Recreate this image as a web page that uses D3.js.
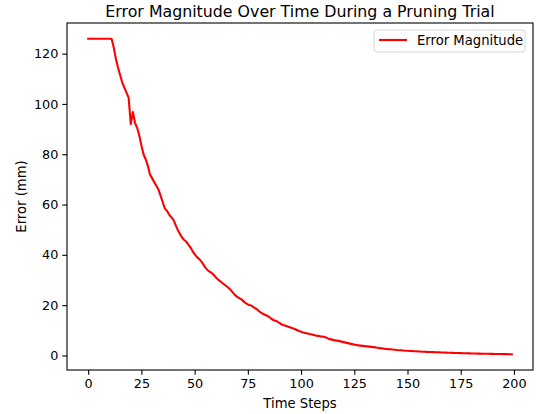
<!DOCTYPE html>
<html lang="en">
<head>
  <meta charset="UTF-8">
  <title>Error Magnitude Over Time During a Pruning Trial</title>
  <script src="https://d3js.org/d3.v7.min.js"></script>
  <style>
    body { margin: 0; background: #fff; }
    text { font-family: "DejaVu Sans", sans-serif; fill: #000; }
  </style>
</head>
<body>
  <script>
    var svgWidth = 537;
    var svgHeight = 414;

    // error magnitude (mm) at each time step 0..199
    var errorValues = [
      125.9, 125.9, 125.9, 125.9, 125.9, 125.9, 125.9, 125.9, 125.9, 125.9,
      125.9, 125.9, 122.5, 118.0, 114.5, 111.5, 108.5, 106.5, 104.5, 102.5,
      92.0, 96.8, 92.5, 90.5, 87.5, 83.5, 80.0, 78.0, 75.5, 72.0,
      70.5, 69.0, 67.5, 66.0, 63.5, 61.0, 58.5, 57.5, 56.0, 55.0,
      54.0, 52.0, 50.0, 48.5, 47.0, 46.0, 45.3, 44.2, 43.0, 41.5,
      40.3, 39.2, 38.5, 37.5, 36.3, 35.0, 34.0, 33.3, 32.8, 32.0,
      31.0, 30.2, 29.5, 28.8, 28.2, 27.5, 26.8, 26.0, 25.0, 24.0,
      23.3, 22.8, 22.3, 21.5, 20.8, 20.3, 20.0, 19.6, 19.0, 18.5,
      17.8, 17.1, 16.6, 16.2, 15.8, 15.3, 14.6, 14.1, 13.8, 13.4,
      12.8, 12.3, 12.0, 11.7, 11.4, 11.1, 10.8, 10.5, 10.1, 9.7,
      9.4, 9.1, 8.9, 8.7, 8.5, 8.3, 8.1, 7.9, 7.8, 7.6,
      7.5, 7.3, 7.0, 6.6, 6.4, 6.2, 6.0, 5.9, 5.7, 5.5,
      5.3, 5.1, 4.9, 4.7, 4.5, 4.3, 4.2, 4.0, 3.9, 3.8,
      3.7, 3.6, 3.5, 3.4, 3.3, 3.2, 3.05, 2.9, 2.8, 2.7,
      2.6, 2.5, 2.45, 2.35, 2.25, 2.15, 2.1, 2.05, 1.95, 1.9,
      1.85, 1.8, 1.75, 1.7, 1.65, 1.6, 1.55, 1.5, 1.48, 1.44,
      1.4, 1.36, 1.32, 1.28, 1.25, 1.22, 1.18, 1.15, 1.12, 1.1,
      1.07, 1.04, 1.0, 0.98, 0.95, 0.92, 0.9, 0.87, 0.85, 0.83,
      0.8, 0.78, 0.76, 0.74, 0.72, 0.7, 0.68, 0.66, 0.65, 0.63,
      0.62, 0.6, 0.58, 0.57, 0.56, 0.54, 0.53, 0.52, 0.5, 0.49
    ];
    var xTicks = [0, 25, 50, 75, 100, 125, 150, 175, 200];
    var yTicks = [0, 20, 40, 60, 80, 100, 120];
    var seriesName = "Error Magnitude";

    var data = errorValues.map((v, i) => ({ t: i, v: v }));

    var margin = { top: 23, right: 4, bottom: 44, left: 67 };
    var w = svgWidth - margin.left - margin.right;
    var h = svgHeight - margin.top - margin.bottom;

    var svg = d3.select("body")
                .append("svg")
                .attr("width", svgWidth)
                .attr("height", svgHeight);

    // matplotlib-style 5% margins around the data
    var xMin = 0, xMax = errorValues.length - 1;
    var yMin = d3.min(errorValues), yMax = d3.max(errorValues);
    var xPad = (xMax - xMin) * 0.05, yPad = (yMax - yMin) * 0.05;

    var x = d3.scaleLinear().domain([xMin - xPad, xMax + xPad]).range([0, w]);
    var y = d3.scaleLinear().domain([yMin - yPad, yMax + yPad]).range([h, 0]);

    var g = svg.append("g").attr("transform", `translate(${margin.left},${margin.top})`);

    var xAxis = g.append("g")
      .attr("transform", `translate(0,${h})`)
      .call(d3.axisBottom(x).tickValues(xTicks).tickSize(4.7).tickPadding(4).tickSizeOuter(0));
    var yAxis = g.append("g")
      .call(d3.axisLeft(y).tickValues(yTicks).tickSize(4.7).tickPadding(4).tickSizeOuter(0));

    [xAxis, yAxis].forEach(a => {
      a.select(".domain").remove();
      a.selectAll(".tick line").attr("stroke", "#000").attr("stroke-width", 1.1);
      a.selectAll(".tick text")
        .style("font-family", "DejaVu Sans, sans-serif")
        .style("font-size", "12.8px")
        .attr("fill", "#000");
    });

    var line = d3.line().x(d => x(d.t)).y(d => y(d.v));
    g.append("path")
      .datum(data)
      .attr("fill", "none")
      .attr("stroke", "red")
      .attr("stroke-width", 2.1)
      .attr("stroke-linejoin", "round")
      .attr("stroke-linecap", "square")
      .attr("d", line);

    // frame
    g.append("rect")
      .attr("width", w).attr("height", h)
      .attr("fill", "none")
      .attr("stroke", "#000")
      .attr("stroke-width", 1.1);

    // title and axis labels
    svg.append("text")
      .attr("x", margin.left + w / 2).attr("y", 16.5)
      .attr("text-anchor", "middle")
      .style("font-size", "15.8px")
      .text("Error Magnitude Over Time During a Pruning Trial");

    svg.append("text")
      .attr("x", margin.left + w / 2).attr("y", 407.5)
      .attr("text-anchor", "middle")
      .style("font-size", "13.2px")
      .text("Time Steps");

    svg.append("text")
      .attr("transform", `translate(26,${margin.top + h / 2}) rotate(-90)`)
      .attr("text-anchor", "middle")
      .style("font-size", "13.2px")
      .text("Error (mm)");

    // legend
    var lg = svg.append("g").attr("transform", "translate(374,30)");
    lg.append("rect")
      .attr("width", 151).attr("height", 22)
      .attr("rx", 3)
      .attr("fill", "#fff").attr("fill-opacity", 0.8)
      .attr("stroke", "#d6d6d6").attr("stroke-width", 1);
    lg.append("line")
      .attr("x1", 5).attr("x2", 33).attr("y1", 10).attr("y2", 10)
      .attr("stroke", "red").attr("stroke-width", 2.1);
    lg.append("text")
      .attr("x", 43).attr("y", 15)
      .style("font-size", "13.2px")
      .text(seriesName);
  </script>
</body>
</html>
